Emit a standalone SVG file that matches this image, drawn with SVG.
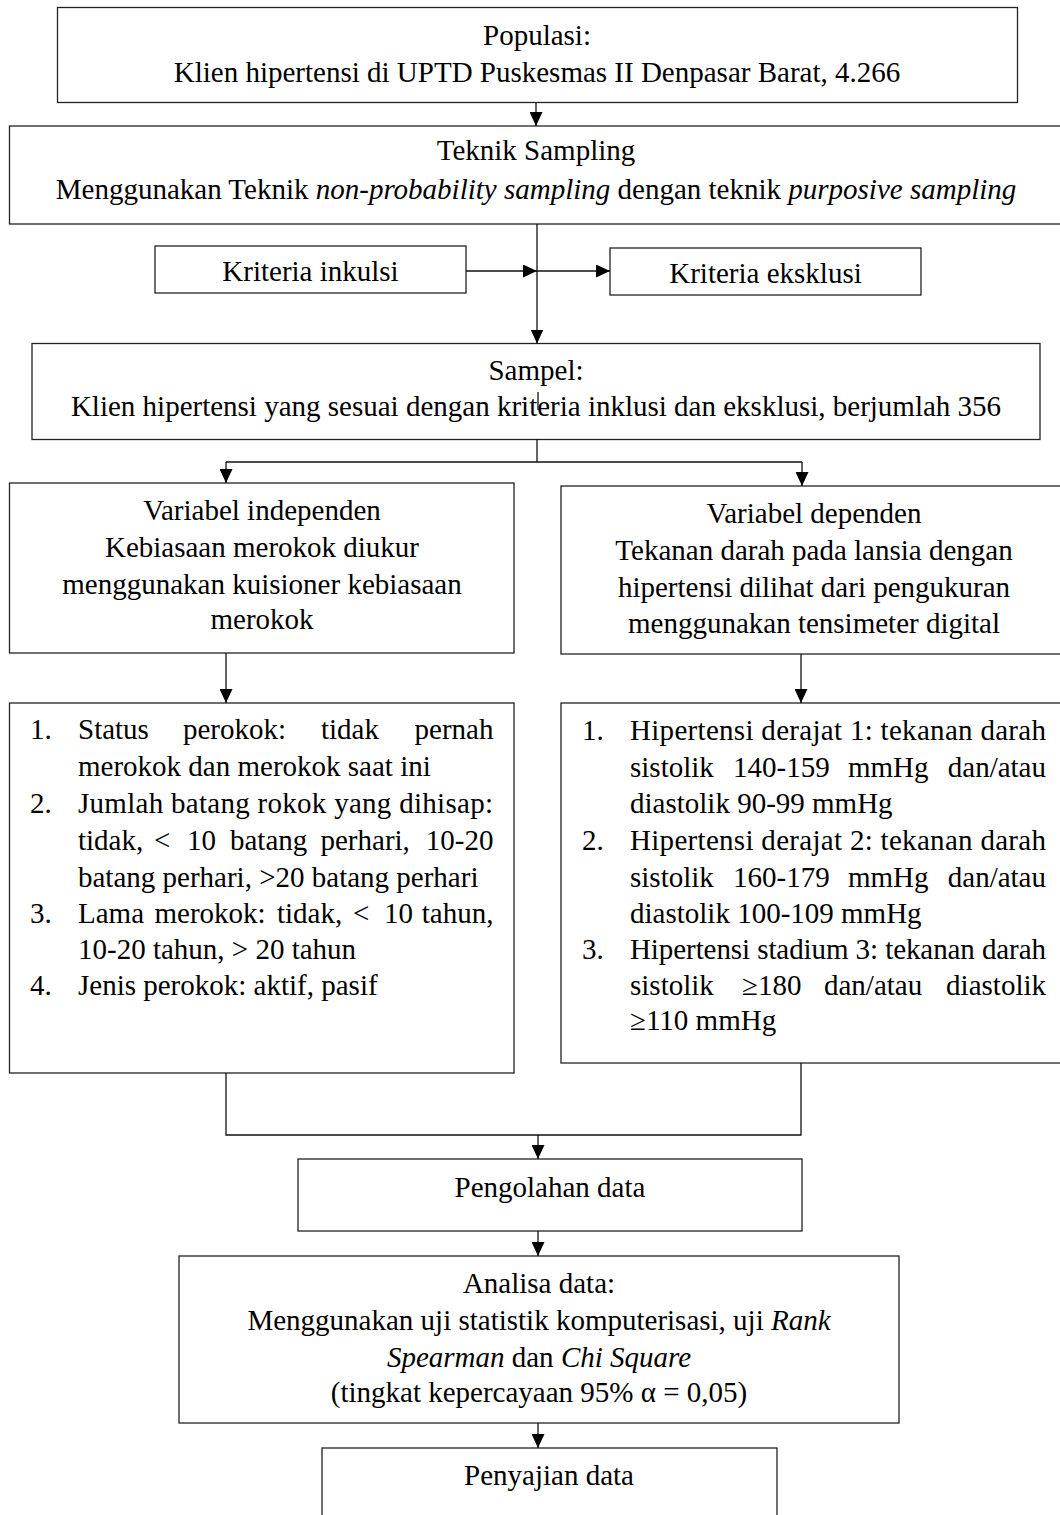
<svg xmlns="http://www.w3.org/2000/svg" width="1060" height="1515" viewBox="0 0 1060 1515">
<style>
.box{fill:#fff;stroke:#222;stroke-width:1.3}
.ln{fill:none;stroke:#111;stroke-width:1.3}
.t{font-family:"Liberation Serif","Times New Roman",serif;font-size:29px;fill:#000}
.c{text-anchor:middle}
.e{text-anchor:end}
.i{font-style:italic}
</style>
<defs>
<marker id="ah" markerUnits="userSpaceOnUse" markerWidth="15" markerHeight="13" refX="14" refY="6.5" orient="auto">
<path d="M0,0 L14,6.5 L0,13 z" fill="#000"/>
</marker>
</defs>
<rect width="1060" height="1515" fill="#fff"/>

<g id="populasi">
<rect class="box" x="57.5" y="7.5" width="960" height="95"/>
<text class="t c" x="537" y="45">Populasi:</text>
<text class="t c" x="537" y="82">Klien hipertensi di UPTD Puskesmas II Denpasar Barat, 4.266</text>
</g>

<g id="teknik">
<rect class="box" x="9.5" y="126" width="1060" height="98"/>
<text class="t c" x="536" y="160">Teknik Sampling</text>
<text class="t c" x="536" y="199">Menggunakan Teknik <tspan class="i">non-probability sampling</tspan> dengan teknik <tspan class="i">purposive sampling</tspan></text>
</g>

<g id="inklusi">
<rect class="box" x="155" y="246" width="311" height="47"/>
<text class="t c" x="310.5" y="281">Kriteria inkulsi</text>
</g>

<g id="eksklusi">
<rect class="box" x="610" y="248" width="311" height="47"/>
<text class="t c" x="765.5" y="283">Kriteria eksklusi</text>
</g>

<g id="sampel">
<rect class="box" x="32" y="343.5" width="1008" height="96"/>
<text class="t c" x="536" y="380">Sampel:</text>
<text class="t c" x="536" y="416">Klien hipertensi yang sesuai dengan kriteria inklusi dan eksklusi, berjumlah 356</text>
</g>

<g id="var-independen">
<rect class="box" x="9.5" y="483" width="504.5" height="170"/>
<text class="t c" x="262" y="520">Variabel independen</text>
<text class="t c" x="262" y="557">Kebiasaan merokok diukur</text>
<text class="t c" x="262" y="594">menggunakan kuisioner kebiasaan</text>
<text class="t c" x="262" y="629">merokok</text>
</g>

<g id="var-dependen">
<rect class="box" x="561" y="486" width="510" height="168"/>
<text class="t c" x="814" y="523">Variabel dependen</text>
<text class="t c" x="814" y="560">Tekanan darah pada lansia dengan</text>
<text class="t c" x="814" y="597">hipertensi dilihat dari pengukuran</text>
<text class="t c" x="814" y="633">menggunakan tensimeter digital</text>
</g>

<g id="list-independen">
<rect class="box" x="9.5" y="703" width="504.5" height="370"/>
<text class="t" x="30" y="739">1.</text>
<text class="t" y="739"><tspan x="78">Status</tspan><tspan x="183">perokok:</tspan><tspan x="321">tidak</tspan></text>
<text class="t e" x="493.5" y="739">pernah</text>
<text class="t" x="78" y="776">merokok dan merokok saat ini</text>
<text class="t" x="30" y="813">2.</text>
<text class="t" x="78" y="813" textLength="415" lengthAdjust="spacing">Jumlah batang rokok yang dihisap:</text>
<text class="t" y="850"><tspan x="78">tidak,</tspan><tspan x="154">&lt;</tspan><tspan x="187">10</tspan><tspan x="230">batang</tspan><tspan x="320.5">perhari,</tspan></text>
<text class="t e" x="493.5" y="850">10-20</text>
<text class="t" x="78" y="887">batang perhari, &gt;20 batang perhari</text>
<text class="t" x="30" y="923">3.</text>
<text class="t" y="923"><tspan x="78">Lama</tspan><tspan x="154.5">merokok:</tspan><tspan x="277">tidak,</tspan><tspan x="353">&lt;</tspan><tspan x="384">10</tspan></text>
<text class="t e" x="493.5" y="923">tahun,</text>
<text class="t" x="78" y="959">10-20 tahun, &gt; 20 tahun</text>
<text class="t" x="30" y="995">4.</text>
<text class="t" x="78" y="995">Jenis perokok: aktif, pasif</text>
</g>

<g id="list-dependen">
<rect class="box" x="561" y="703" width="510" height="360"/>
<text class="t" x="582" y="740">1.</text>
<text class="t" x="630" y="740" textLength="416" lengthAdjust="spacing">Hipertensi derajat 1: tekanan darah</text>
<text class="t" y="777"><tspan x="630">sistolik</tspan><tspan x="733">140-159</tspan><tspan x="848">mmHg</tspan></text>
<text class="t e" x="1046" y="777">dan/atau</text>
<text class="t" x="630" y="813">diastolik 90-99 mmHg</text>
<text class="t" x="582" y="850">2.</text>
<text class="t" x="630" y="850" textLength="416" lengthAdjust="spacing">Hipertensi derajat 2: tekanan darah</text>
<text class="t" y="887"><tspan x="630">sistolik</tspan><tspan x="733">160-179</tspan><tspan x="848">mmHg</tspan></text>
<text class="t e" x="1046" y="887">dan/atau</text>
<text class="t" x="630" y="923">diastolik 100-109 mmHg</text>
<text class="t" x="582" y="959">3.</text>
<text class="t" x="630" y="959" textLength="416" lengthAdjust="spacing">Hipertensi stadium 3: tekanan darah</text>
<text class="t" y="995"><tspan x="630">sistolik</tspan><tspan x="742">≥180</tspan><tspan x="824">dan/atau</tspan></text>
<text class="t e" x="1046" y="995">diastolik</text>
<text class="t" x="630" y="1030">≥110 mmHg</text>
</g>

<g id="pengolahan">
<rect class="box" x="298" y="1159" width="504" height="72"/>
<text class="t c" x="550" y="1197">Pengolahan data</text>
</g>

<g id="analisa">
<rect class="box" x="179" y="1256" width="720" height="167"/>
<text class="t c" x="539" y="1293">Analisa data:</text>
<text class="t c" x="539" y="1330">Menggunakan uji statistik komputerisasi, uji <tspan class="i">Rank</tspan></text>
<text class="t c" x="539" y="1367"><tspan class="i">Spearman</tspan> dan <tspan class="i">Chi Square</tspan></text>
<text class="t c" x="539" y="1402">(tingkat kepercayaan 95% α = 0,05)</text>
</g>

<g id="penyajian">
<rect class="box" x="322" y="1448" width="455" height="80"/>
<text class="t c" x="549" y="1485">Penyajian data</text>
</g>

<g id="connectors">
<line class="ln" x1="536" y1="102.5" x2="536" y2="126" marker-end="url(#ah)"/>
<line class="ln" x1="537" y1="224" x2="537" y2="343.5" marker-end="url(#ah)"/>
<line class="ln" x1="466" y1="271" x2="537" y2="271" marker-end="url(#ah)"/>
<line class="ln" x1="537" y1="271" x2="610" y2="271" marker-end="url(#ah)"/>
<line class="ln" x1="538" y1="392" x2="538" y2="410"/>
<polyline class="ln" points="537,439.5 537,462"/>
<line class="ln" x1="226" y1="462" x2="802" y2="462"/>
<line class="ln" x1="226" y1="462" x2="226" y2="483" marker-end="url(#ah)"/>
<line class="ln" x1="802" y1="462" x2="802" y2="486" marker-end="url(#ah)"/>
<line class="ln" x1="226" y1="653" x2="226" y2="703" marker-end="url(#ah)"/>
<line class="ln" x1="801" y1="654" x2="801" y2="703" marker-end="url(#ah)"/>
<polyline class="ln" points="226,1073 226,1135 801,1135 801,1063"/>
<line class="ln" x1="538" y1="1135" x2="538" y2="1159" marker-end="url(#ah)"/>
<line class="ln" x1="538" y1="1231" x2="538" y2="1256" marker-end="url(#ah)"/>
<line class="ln" x1="538" y1="1423" x2="538" y2="1448" marker-end="url(#ah)"/>
</g>
</svg>
